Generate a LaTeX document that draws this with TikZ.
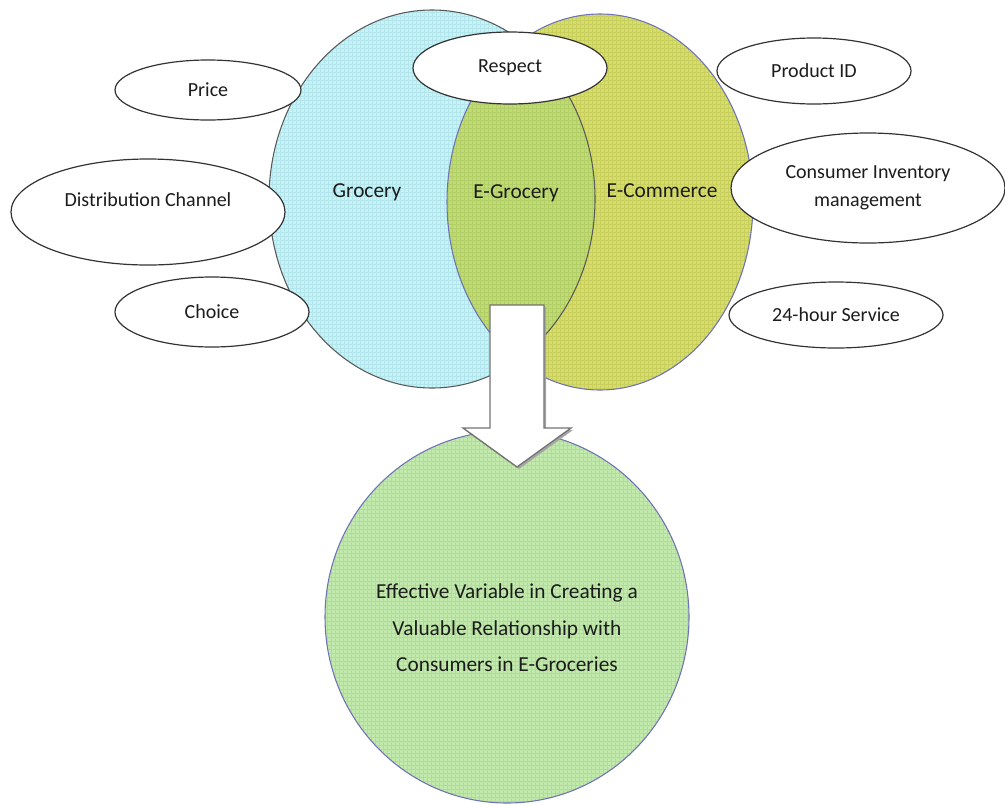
\documentclass[tikz,border=0pt]{standalone}
\usepackage{fontspec}
\setmainfont{Carlito}
\usetikzlibrary{shapes.geometric}
\definecolor{cyanfill}{HTML}{C8F3F6}
\definecolor{cyangrid}{HTML}{B2E6EC}
\definecolor{olivefill}{HTML}{D6DD6C}
\definecolor{olivegrid}{HTML}{C8CF5C}
\definecolor{overfill}{HTML}{C0DA74}
\definecolor{overgrid}{HTML}{B2CE66}
\definecolor{greenfill}{HTML}{C2EAAC}
\definecolor{greengrid}{HTML}{AEDD96}
\definecolor{blueline}{HTML}{6E72B8}
\definecolor{txt}{HTML}{1C1C1C}
\tikzset{
  gridlines/.style={line width=0.3pt},
  oval/.style={ellipse, draw=black!80, line width=0.9pt, fill=white, inner sep=0pt,
    font=\fontsize{15}{21}\selectfont, text=txt, align=center},
  vennlabel/.style={font=\fontsize{16}{20}\selectfont, text=txt, inner sep=0pt},
  blockarrow/.style={draw=black!55, line width=1pt, fill=white},
}
\begin{document}
\begin{tikzpicture}[x=0.75pt,y=-0.75pt]
\useasboundingbox (0,0) rectangle (1005,803);
% Grocery set
\begin{scope}
  \clip (432,199) ellipse [x radius=122.25pt, y radius=141.75pt];
  \fill[cyanfill] (0,0) rectangle (1005,803);
  \draw[cyangrid, gridlines, step=3pt] (0pt,-603pt) grid (754pt,0pt);
\end{scope}
% E-Commerce set
\begin{scope}
  \clip (600,202) ellipse [x radius=114.75pt, y radius=141pt];
  \fill[olivefill] (0,0) rectangle (1005,803);
  \draw[olivegrid, gridlines, step=3pt] (0pt,-603pt) grid (754pt,0pt);
\end{scope}
% Overlap: E-Grocery
\begin{scope}
  \clip (432,199) ellipse [x radius=122.25pt, y radius=141.75pt];
  \clip (600,202) ellipse [x radius=114.75pt, y radius=141pt];
  \fill[overfill] (0,0) rectangle (1005,803);
  \draw[overgrid, gridlines, step=3pt] (0pt,-603pt) grid (754pt,0pt);
\end{scope}
\draw[blueline, line width=0.8pt] (600,202) ellipse [x radius=114.75pt, y radius=141pt];
\draw[black!65, line width=0.8pt] (432,199) ellipse [x radius=122.25pt, y radius=141.75pt];

\node[vennlabel] (grocery) at (367,192) {Grocery};
\node[vennlabel] (egrocery) at (516,193) {E-Grocery};
\node[vennlabel] (ecommerce) at (662,191) {E-Commerce};

% surrounding factors
\node[oval, minimum width=145.5pt, minimum height=54pt] (respect) at (510,68) {Respect};
\node[oval, minimum width=139.5pt, minimum height=45pt] (price) at (208,90) {Price};
\node[oval, minimum width=205.5pt, minimum height=79.5pt] (distribution) at (148,212) {Distribution Channel\\[-3pt]\mbox{}};
\node[oval, minimum width=145.5pt, minimum height=52.5pt] (choice) at (212,312) {Choice};
\node[oval, minimum width=145.5pt, minimum height=49.5pt] (productid) at (814,71) {Product ID};
\node[oval, minimum width=205.5pt, minimum height=82.5pt] (inventory) at (868,188) {Consumer Inventory\\management};
\node[oval, minimum width=160.5pt, minimum height=49.5pt] (service) at (836,315) {24-hour Service};

% result circle
\node[ellipse, minimum width=273pt, minimum height=279pt, inner sep=0pt, draw=blueline, line width=0.8pt,
  fill=greenfill,
  path picture={\draw[greengrid, gridlines, step=3pt] (path picture bounding box.south west) grid (path picture bounding box.north east);}]
  (result) at (507,617) {};
\node[font=\fontsize{16}{27.4}\selectfont, align=center, text=txt, inner sep=0pt] (resulttext) at (507,628)
  {Effective Variable in Creating a\\Valuable Relationship with\\Consumers in E-Groceries};

% block arrow
\begin{scope}[xshift=1.5pt, yshift=-1.5pt]
  \fill[black!35] (490,305) -- (544,305) -- (544,428) -- (571,428) -- (517,467) -- (463,428) -- (490,428) -- cycle;
\end{scope}
\draw[blockarrow] (490,305) -- (544,305) -- (544,428) -- (571,428) -- (517,467) -- (463,428) -- (490,428) -- cycle;
\end{tikzpicture}
\end{document}
